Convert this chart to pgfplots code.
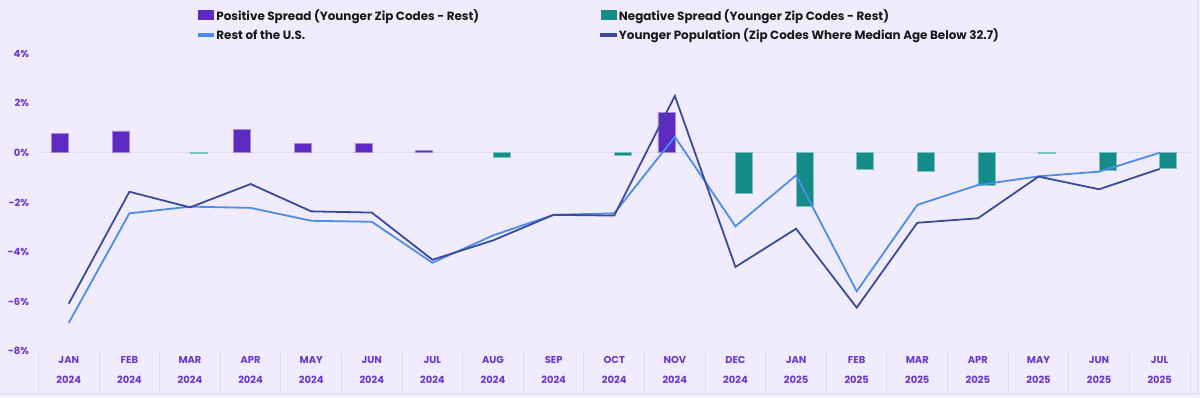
\documentclass[border=0pt]{standalone}
\usepackage{pgfplots}
\pgfplotsset{compat=1.18}
\usepackage{fontspec}
\setmainfont{Poppins}
\definecolor{bg}{HTML}{F1ECFD}
\definecolor{posbar}{HTML}{5D2AC3}
\definecolor{negbar}{HTML}{148C89}
\definecolor{restline}{HTML}{4C8DEB}
\definecolor{youngline}{HTML}{3A4B9C}
\definecolor{ticklab}{HTML}{6A36D6}
\definecolor{sepc}{HTML}{E2DCF2}
\begin{document}
\begin{tikzpicture}[x=1bp,y=1bp]
\fill[bg] (0,0) rectangle (1200,397);
\draw[sepc, line width=1bp] (0,4) -- (1197,4) -- (1197,397);
\begin{axis}[
  at={(38bp,46bp)}, anchor=south west,
  scale only axis, width=1152bp, height=298bp,
  xmin=-0.5, xmax=18.5, ymin=-8, ymax=4,
  axis line style={draw=none},
  xtick={0,...,18},
  xticklabels={{JAN\\2024},{FEB\\2024},{MAR\\2024},{APR\\2024},{MAY\\2024},{JUN\\2024},{JUL\\2024},{AUG\\2024},{SEP\\2024},{OCT\\2024},{NOV\\2024},{DEC\\2024},{JAN\\2025},{FEB\\2025},{MAR\\2025},{APR\\2025},{MAY\\2025},{JUN\\2025},{JUL\\2025}},
  xticklabel style={align=center, font=\fontsize{10}{20}\selectfont\bfseries, text=ticklab, yshift=-2bp},
  minor xtick={-0.5,0.5,...,18.5},
  xtick pos=bottom, tick align=outside,
  major tick length=0pt, minor tick length=41bp,
  minor tick style={sepc, line width=1bp},
  ytick={-8,-6,...,4},
  yticklabel={\pgfmathprintnumber{\tick}\%},
  yticklabel style={font=\fontsize{10}{12}\selectfont\bfseries, text=ticklab, anchor=east, xshift=-6bp},
  ytick style={draw=none},
  extra y ticks={0}, extra y tick labels={},
  extra y tick style={grid=major, major grid style={sepc, line width=1bp}},
  /pgf/number format/assume math mode=true,
  clip=false,
  legend columns=2,
  legend cell align=left,
  legend style={draw=none, fill=none, at={(0.138,1.155)}, anchor=north west,
    font=\fontsize{12}{13}\selectfont\bfseries, text=black!90,
    /tikz/every even column/.append style={column sep=119bp},
    row sep=3bp, inner sep=0pt},
]
\addplot[ybar, bar width=17bp, bar shift=-8.5bp, fill=posbar, draw=posbar!55!white, line width=0.6bp,
  legend image code/.code={\fill[posbar] (0bp,-4bp) rectangle (15bp,5bp);}]
  coordinates {(0,0.78) (1,0.88) (3,0.95) (4,0.38) (5,0.37) (6,0.10) (10,1.63)};
\addlegendentry{Positive Spread (Younger Zip Codes - Rest)}
\addplot[ybar, bar width=17bp, bar shift=8.5bp, fill=negbar, draw=negbar!55!white, line width=0.6bp,
  legend image code/.code={\fill[negbar] (0bp,-4bp) rectangle (15bp,5bp);}]
  coordinates {(2,-0.04) (7,-0.19) (9,-0.11) (11,-1.65) (12,-2.15) (13,-0.65) (14,-0.73) (15,-1.33) (16,-0.03) (17,-0.69) (18,-0.63)};
\addlegendentry{Negative Spread (Younger Zip Codes - Rest)}
\addplot[restline, line width=1.8bp, mark=none,
  legend image code/.code={\fill[restline] (0bp,-1bp) rectangle (15bp,1bp);}]
  coordinates {(0,-6.85) (1,-2.44) (2,-2.17) (3,-2.22) (4,-2.74) (5,-2.78) (6,-4.43) (7,-3.33) (8,-2.50) (9,-2.44) (10,0.64) (11,-2.96) (12,-0.91) (13,-5.58) (14,-2.10) (15,-1.30) (16,-0.95) (17,-0.76) (18,0.0)};
\addlegendentry{Rest of the U.S.}
\addplot[youngline, line width=1.8bp, mark=none,
  legend image code/.code={\fill[youngline] (0bp,-1bp) rectangle (15bp,1bp);}]
  coordinates {(0,-6.08) (1,-1.57) (2,-2.20) (3,-1.26) (4,-2.36) (5,-2.41) (6,-4.31) (7,-3.53) (8,-2.50) (9,-2.53) (10,2.29) (11,-4.60) (12,-3.06) (13,-6.24) (14,-2.82) (15,-2.64) (16,-0.96) (17,-1.47) (18,-0.65)};
\addlegendentry{Younger Population (Zip Codes Where Median Age Below 32.7)}
\end{axis}
\end{tikzpicture}
\end{document}
